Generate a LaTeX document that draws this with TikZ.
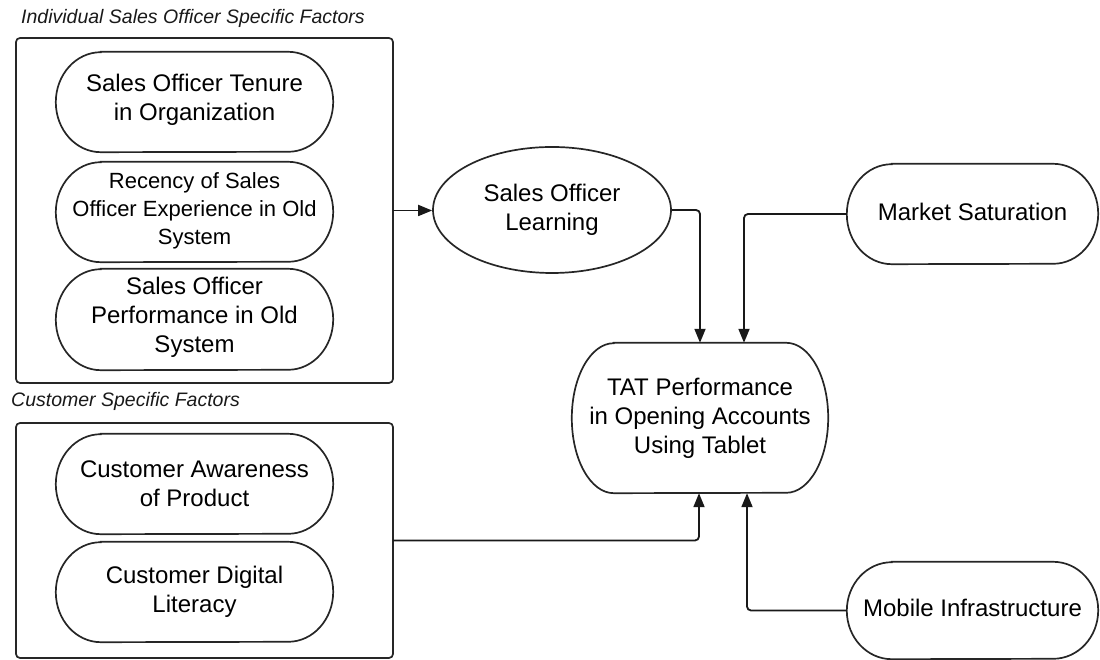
\documentclass[tikz,border=0pt]{standalone}
\usepackage{fontspec}
\setmainfont{Liberation Sans}
\usetikzlibrary{arrows.meta,shapes.geometric}
\newcommand{\stadshape}[3]{%
  \draw[shapeline] ([xshift=#2]#1.north west) -- ([xshift=-#2]#1.north east)
    arc[start angle=90,end angle=-90,x radius=#2,y radius=#3]
    -- ([xshift=#2]#1.south west)
    arc[start angle=270,end angle=90,x radius=#2,y radius=#3] -- cycle;}
\begin{document}
\begin{tikzpicture}[x=1pt,y=1pt,
  shapeline/.style={line width=1.7pt,draw=black!85},
  stadbox/.style={rectangle,inner sep=0pt,align=center,text=black,
    font=\fontsize{24}{29}\selectfont},
  groupbox/.style={draw=black!85,line width=1.7pt,rounded corners=4pt},
  grouptitle/.style={anchor=west,inner sep=0pt,text=black!90,
    font=\fontsize{19.5}{23}\selectfont\itshape},
  arr/.style={line width=1.8pt,draw=black!90,rounded corners=4pt,
    -{Triangle[length=14pt,width=11pt]}}]
\useasboundingbox (0,0) rectangle (1100,660);

% group 1
\node[grouptitle] (t1) at (21,642) {Individual Sales Officer Specific Factors};
\draw[groupbox] (16,622) rectangle (393,277);
\coordinate (box1e) at (393,449.5);
\node[stadbox,minimum width=277pt,minimum height=100pt] (s1) at (194.5,560)
  {Sales Officer Tenure\\in Organization};
\node[stadbox,minimum width=277pt,minimum height=100pt,
  font=\fontsize{22}{28}\selectfont] (s2) at (194.5,449)
  {Recency of Sales\\Officer Experience in Old\\System};
\node[stadbox,minimum width=277pt,minimum height=101pt] (s3) at (194.5,343)
  {Sales Officer\\Performance in Old\\System};
\draw[shapeline] ([xshift=45pt,yshift=-2pt]s1.north west) -- ([xshift=-45pt,yshift=-2pt]s1.north east)
    arc[start angle=90,end angle=-90,x radius=45pt,y radius=50pt]
    -- ([xshift=45pt,yshift=-2pt]s1.south west)
    arc[start angle=270,end angle=90,x radius=45pt,y radius=50pt] -- cycle;
\draw[shapeline] ([xshift=45pt,yshift=-1pt]s2.north west) -- ([xshift=-45pt,yshift=-1pt]s2.north east)
    arc[start angle=90,end angle=-90,x radius=45pt,y radius=50pt]
    -- ([xshift=45pt,yshift=-1pt]s2.south west)
    arc[start angle=270,end angle=90,x radius=45pt,y radius=50pt] -- cycle;
\draw[shapeline] ([xshift=45pt,yshift=-2.5pt]s3.north west) -- ([xshift=-45pt,yshift=-2.5pt]s3.north east)
    arc[start angle=90,end angle=-90,x radius=45pt,y radius=50.5pt]
    -- ([xshift=45pt,yshift=-2.5pt]s3.south west)
    arc[start angle=270,end angle=90,x radius=45pt,y radius=50.5pt] -- cycle;

% group 2
\node[grouptitle] (t2) at (11,259) {Customer Specific Factors};
\draw[groupbox] (16,237) rectangle (393,2);
\coordinate (box2e) at (393,119.5);
\node[stadbox,minimum width=277pt,minimum height=100pt] (c1) at (194.5,176)
  {Customer Awareness\\of Product};
\node[stadbox,minimum width=277pt,minimum height=100pt] (c2) at (194.5,68)
  {Customer Digital\\Literacy};
\stadshape{c1}{45pt}{50pt}
\stadshape{c2}{45pt}{50pt}

% centre
\node[ellipse,shapeline,draw,inner sep=0pt,minimum width=238pt,minimum height=126pt,
  align=center,text=black,font=\fontsize{24}{29}\selectfont] (learn) at (552,450)
  {Sales Officer\\Learning};
\node[stadbox,minimum width=256pt,minimum height=150pt] (tat) at (700,242)
  {TAT Performance\\in Opening Accounts\\Using Tablet};
\stadshape{tat}{42pt}{75pt}

% right
\node[stadbox,minimum width=251pt,minimum height=100pt] (market) at (972.5,448)
  {Market Saturation};
\node[stadbox,minimum width=251pt,minimum height=97pt] (mobile) at (972.5,52)
  {Mobile Infrastructure};
\draw[shapeline] ([xshift=45pt,yshift=-2pt]market.north west) -- ([xshift=-45pt,yshift=-2pt]market.north east)
    arc[start angle=90,end angle=-90,x radius=45pt,y radius=50pt]
    -- ([xshift=45pt,yshift=-2pt]market.south west)
    arc[start angle=270,end angle=90,x radius=45pt,y radius=50pt] -- cycle;
\draw[shapeline] ([xshift=45pt,yshift=-2.5pt]mobile.north west) -- ([xshift=-45pt,yshift=-2.5pt]mobile.north east)
    arc[start angle=90,end angle=-90,x radius=45pt,y radius=48.5pt]
    -- ([xshift=45pt,yshift=-2.5pt]mobile.south west)
    arc[start angle=270,end angle=90,x radius=45pt,y radius=48.5pt] -- cycle;

% connectors
\draw[arr] (box1e) -- (box1e -| learn.west);
\draw[arr] (learn.east) -| (tat.north);
\draw[arr] ([yshift=-2pt]market.west) -| ([xshift=44pt]tat.north);
\draw[arr] (box2e) -| ([xshift=-1pt]tat.south);
\draw[arr] ([yshift=-2.5pt]mobile.west) -| ([xshift=47pt]tat.south);
\end{tikzpicture}
\end{document}
